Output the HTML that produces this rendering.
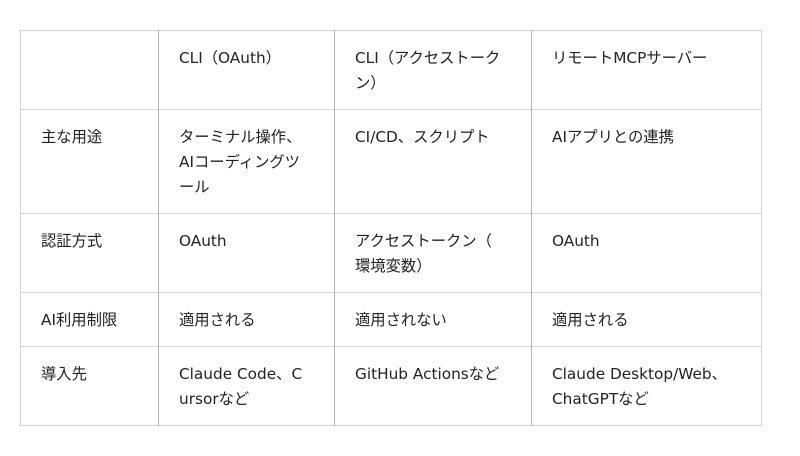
<!DOCTYPE html>
<html><head><meta charset="utf-8"><style>
body{margin:0;width:800px;height:456px;background:#fff;position:relative;overflow:hidden;font-family:"DejaVu Sans","Noto Sans CJK JP",sans-serif;font-size:15.3px;color:#222}
.h{position:absolute;left:20px;width:742px;height:1px;background:#d4d4d4}
.v{position:absolute;top:30px;height:396px;width:1px;background:#b4b4b4}
.t{position:absolute;line-height:25px;white-space:nowrap}
</style></head><body>
<div class="h" style="top:30px"></div><div class="h" style="top:109px"></div><div class="h" style="top:213px"></div><div class="h" style="top:292px"></div><div class="h" style="top:346px"></div><div class="h" style="top:425px"></div>
<div class="v" style="left:20px;background:#d4d4d4"></div><div class="v" style="left:158px"></div><div class="v" style="left:334px"></div><div class="v" style="left:531px"></div><div class="v" style="left:761px;background:#d4d4d4"></div>

<div class="t" style="left:179px;top:46px">CLI（OAuth）</div>
<div class="t" style="left:355px;top:46px">CLI（アクセストーク<br>ン）</div>
<div class="t" style="left:552px;top:46px">リモートMCPサーバー</div>

<div class="t" style="left:41px;top:125px">主な用途</div>
<div class="t" style="left:179px;top:125px">ターミナル操作、<br>AIコーディングツ<br>ール</div>
<div class="t" style="left:355px;top:125px">CI/CD、スクリプト</div>
<div class="t" style="left:552px;top:125px">AIアプリとの連携</div>

<div class="t" style="left:41px;top:229px">認証方式</div>
<div class="t" style="left:179px;top:229px">OAuth</div>
<div class="t" style="left:355px;top:229px">アクセストークン（<br>環境変数）</div>
<div class="t" style="left:552px;top:229px">OAuth</div>

<div class="t" style="left:41px;top:308px">AI利用制限</div>
<div class="t" style="left:179px;top:308px">適用される</div>
<div class="t" style="left:355px;top:308px">適用されない</div>
<div class="t" style="left:552px;top:308px">適用される</div>

<div class="t" style="left:41px;top:362px">導入先</div>
<div class="t" style="left:179px;top:362px">Claude Code、C<br>ursorなど</div>
<div class="t" style="left:355px;top:362px">GitHub Actionsなど</div>
<div class="t" style="left:552px;top:362px">Claude Desktop/Web、<br>ChatGPTなど</div>
</body></html>
